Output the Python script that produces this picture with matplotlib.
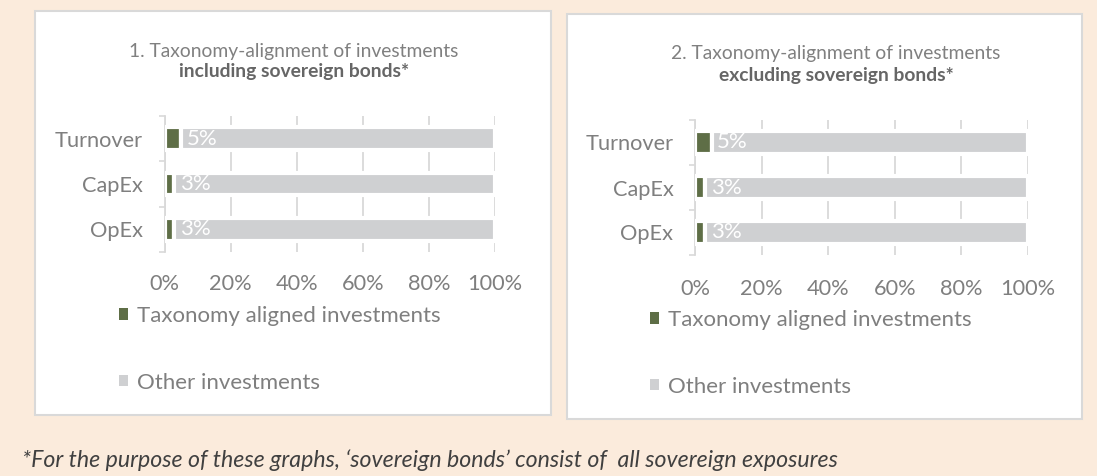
import matplotlib
matplotlib.use("Agg")
import matplotlib.pyplot as plt
from matplotlib.patches import Rectangle, Patch

# data
categories = ["Turnover", "CapEx", "OpEx"]
aligned_incl = [5, 3, 3]
aligned_excl = [5, 3, 3]
series_names = ["Taxonomy aligned investments", "Other investments"]
x_ticks = [0, 20, 40, 60, 80, 100]
titles = [
    ("1. Taxonomy-alignment of investments", "including sovereign bonds*"),
    ("2. Taxonomy-alignment of investments", "excluding sovereign bonds*"),
]
footnote = "*For the purpose of these graphs, \u2018sovereign bonds\u2019 consist of  all sovereign exposures"

W, H = 1097, 476
BG = "#FBEBDC"
GREEN = "#5E6E46"
GREY = "#CFD0D2"
LINE = "#D9D9D9"
TEXT = "#7F7F7F"

plt.rcParams["font.family"] = ["Lato", "DejaVu Sans"]


def fx(x):
    return x / W


def fy(y):
    return 1 - y / H


def draw_panel(fig, box, axbox, title, aligned, title_y, title_x, leg_xy, tick_pad):
    """Draws one white panel with its stacked bar chart"""
    x0, y0, x1, y1 = box
    fig.patches.append(Rectangle((fx(x0), fy(y1)), fx(x1 - x0), (y1 - y0) / H,
                                 transform=fig.transFigure, facecolor="white",
                                 edgecolor=LINE, linewidth=1.5, zorder=-5))

    l, t, r, b = axbox
    ax = fig.add_axes([fx(l), fy(b), fx(r - l), (b - t) / H], zorder=2)
    ax.patch.set_alpha(0)

    ypos = list(range(len(categories)))
    other = [100 - v for v in aligned]
    bars = ax.barh(ypos, aligned, height=0.5, color=GREEN, edgecolor="white",
                   linewidth=3, zorder=3)
    ax.barh(ypos, other, left=aligned, height=0.5, color=GREY, edgecolor="white",
            linewidth=3, zorder=3)
    ax.bar_label(bars, labels=[f"{v}%" for v in aligned], padding=4,
                 color="white", fontsize=16, zorder=4)

    ax.set_xlim(0, 100)
    ax.set_ylim(len(categories) - 0.5, -0.5)
    ax.set_yticks(ypos)
    ax.set_yticklabels(categories)
    ax.set_yticks([i - 0.5 for i in range(len(categories) + 1)], minor=True)
    ax.set_xticks(x_ticks)
    ax.set_xticklabels([f"{v}%" for v in x_ticks])
    ax.tick_params(axis="y", which="major", length=0, pad=15.5, labelsize=15.7, labelcolor=TEXT)
    ax.tick_params(axis="y", which="minor", length=4.5, width=1.2, color=LINE)
    ax.tick_params(axis="x", length=0, pad=tick_pad, labelsize=15.7, labelcolor=TEXT)
    ax.grid(axis="x", color=LINE, linewidth=1.3, zorder=0)
    ax.set_axisbelow(True)
    for side in ["top", "right", "bottom"]:
        ax.spines[side].set_visible(False)
    ax.spines["left"].set_color(LINE)
    ax.spines["left"].set_linewidth(1.3)

    fig.text(fx(title_x), fy(title_y[0]), title[0], ha="center", va="center",
             fontsize=13.9, color="#808080")
    fig.text(fx(title_x), fy(title_y[1]), title[1], ha="center", va="center",
             fontsize=13.9, color="#666666", fontweight="bold")

    handles = [Patch(facecolor=c) for c in (GREEN, GREY)]
    fig.legend(handles, series_names, loc="upper left",
               bbox_to_anchor=(fx(leg_xy[0]), fy(leg_xy[1])), frameon=False,
               fontsize=16, labelcolor=TEXT, handlelength=0.4, handleheight=0.4,
               handletextpad=0.4, labelspacing=2.1, borderaxespad=0, borderpad=0)
    return ax


def main():
    fig = plt.figure(figsize=(W / 100, H / 100), dpi=100)
    fig.patch.set_facecolor(BG)

    draw_panel(fig, (35, 11, 551, 415), (164.5, 116, 495, 252), titles[0],
               aligned_incl, (51, 72), 294, (119, 306), 16)
    draw_panel(fig, (567, 14, 1082, 419), (695, 120, 1028, 255), titles[1],
               aligned_excl, (54, 75), 836, (650, 310), 17)

    fig.text(fx(22), fy(460), footnote, ha="left", va="center", fontsize=16.7,
             style="italic", color="#404040")

    fig.savefig("out.png", dpi=100, facecolor=BG)


if __name__ == "__main__":
    main()
